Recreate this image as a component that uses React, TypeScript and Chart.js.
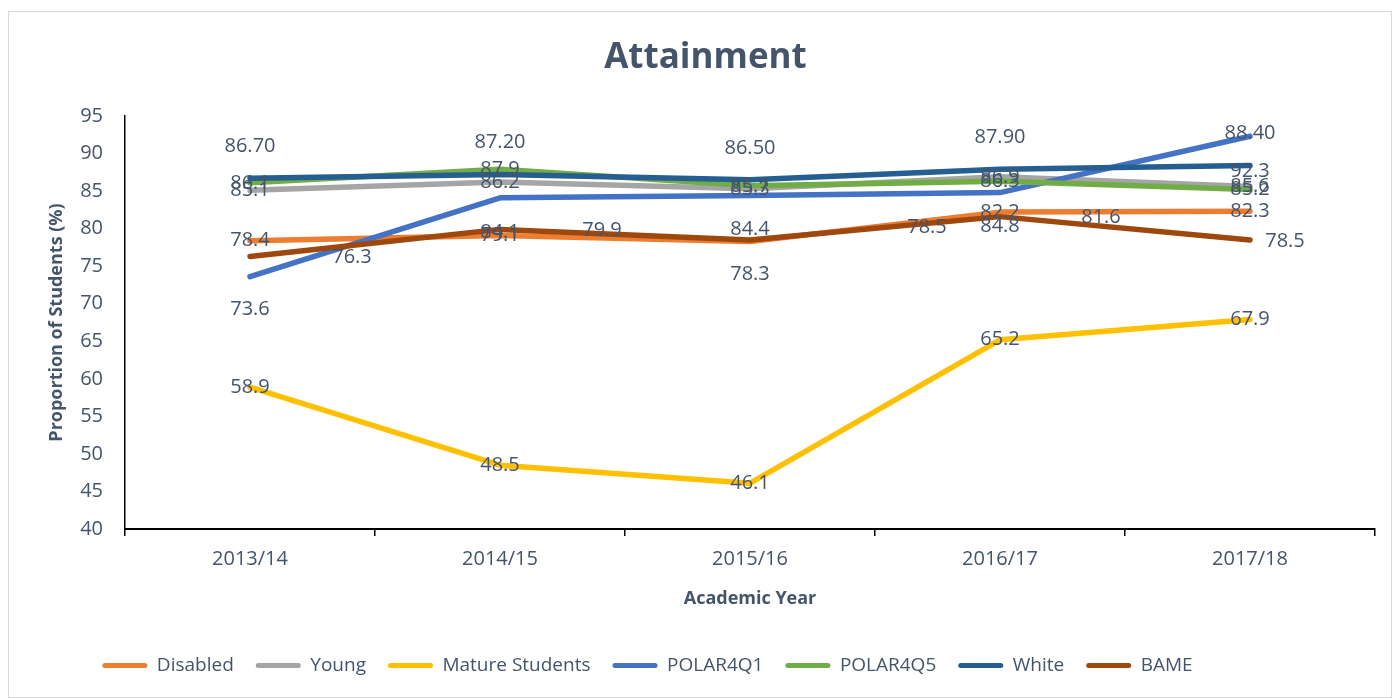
import React, { useEffect, useRef } from "react";
import { Chart, registerables } from "chart.js";

Chart.register(...registerables);

const categories = ["2013/14", "2014/15", "2015/16", "2016/17", "2017/18"];
const seriesNames = ["Disabled", "Young", "Mature Students", "POLAR4Q1", "POLAR4Q5", "White", "BAME"];
const disabled = [78.4, 79.1, 78.3, 82.2, 82.3];
const young = [85.1, 86.2, 85.3, 86.9, 85.6];
const mature = [58.9, 48.5, 46.1, 65.2, 67.9];
const polar4q1 = [73.6, 84.1, 84.4, 84.8, 92.3];
const polar4q5 = [86.1, 87.9, 85.7, 86.3, 85.2];
const white = [86.7, 87.2, 86.5, 87.9, 88.4];
const bame = [76.3, 79.9, 78.5, 81.6, 78.5];
const yMin = 40;
const yMax = 95;
const yStep = 5;

const seriesValues = [disabled, young, mature, polar4q1, polar4q5, white, bame];
const colors = ["#ED7D31", "#A5A5A5", "#FFC000", "#4472C4", "#70AD47", "#255E91", "#9E480E"];

// label placement styles (offsets in px relative to the point)
const labelStyles = [
  { decimals: 1, dx: [0, 0, 0, 0, 0], dy: [0, 0, 33, 0, 0] },
  { decimals: 1, dx: [0, 0, 0, 0, 0], dy: [0, 0, 0, 0, 0] },
  { decimals: 1, dx: [0, 0, 0, 0, 0], dy: [0, 0, 0, 0, 0] },
  { decimals: 1, dx: [0, 0, 0, 0, 0], dy: [33, 34, 34, 34, 35] },
  { decimals: 1, dx: [0, 0, 0, 0, 0], dy: [0, 0, 0, 0, 0] },
  { decimals: 2, dx: [0, 0, 0, 0, 0], dy: [-32, -32, -32, -32, -32] },
  { decimals: 1, dx: [102, 102, 177, 101, 35], dy: [1, 1, -13, 1, 1] },
];

const FONT = "'Open Sans', 'DejaVu Sans', sans-serif";
const TEXT = "#44546A";

const pointLabels = {
  id: "pointLabels",
  afterDatasetsDraw(chart: any) {
    const ctx = chart.ctx;
    ctx.save();
    ctx.font = `20px ${FONT}`;
    ctx.fillStyle = TEXT;
    ctx.textAlign = "center";
    ctx.textBaseline = "middle";
    chart.data.datasets.forEach((ds: any, i: number) => {
      const meta = chart.getDatasetMeta(i);
      const st = labelStyles[i];
      meta.data.forEach((pt: any, j: number) => {
        const v = ds.data[j] as number;
        ctx.fillText(v.toFixed(st.decimals), pt.x + st.dx[j], pt.y + st.dy[j]);
      });
    });
    ctx.restore();
  },
};

const frame = {
  id: "frame",
  beforeDraw(chart: any) {
    const ctx = chart.ctx;
    ctx.save();
    ctx.fillStyle = "#ffffff";
    ctx.fillRect(0, 0, chart.width, chart.height);
    ctx.strokeStyle = "#D9D9D9";
    ctx.lineWidth = 1;
    ctx.strokeRect(8.5, 11.5, 1383, 686);
    ctx.restore();
  },
};

const shiftBlocks = {
  id: "shiftBlocks",
  afterLayout(chart: any) {
    const lg = chart.legend;
    if (lg) {
      lg.left -= 40;
      lg.right -= 40;
    }
    const tb = chart.titleBlock;
    if (tb) {
      tb.left += 18;
      tb.right += 18;
    }
  },
};

export default function App() {
  const ref = useRef<HTMLCanvasElement | null>(null);

  useEffect(() => {
    if (!ref.current) return;
    const n = seriesNames.length;
    const chart = new Chart(ref.current, {
      type: "line",
      data: {
        labels: categories,
        datasets: seriesNames.map((name, i) => ({
          label: name,
          data: seriesValues[i],
          borderColor: colors[i],
          backgroundColor: colors[i],
          borderWidth: 5.5,
          borderCapStyle: "round",
          borderJoinStyle: "round",
          pointRadius: 0,
          pointHoverRadius: 0,
          tension: 0,
          fill: false,
          order: n - i,
        })),
      },
      options: {
        responsive: false,
        animation: false,
        events: [],
        layout: { padding: { left: 0, right: 25, top: 0, bottom: 14 } },
        plugins: {
          tooltip: { enabled: false },
          title: {
            display: true,
            text: "Attainment",
            color: TEXT,
            font: { family: FONT, size: 35, weight: "bold" },
            padding: { top: 37, bottom: 37 },
          },
          legend: {
            display: true,
            position: "bottom",
            labels: {
              color: TEXT,
              font: { family: FONT, size: 19 },
              boxWidth: 45,
              boxHeight: 5,
              padding: 22,
              useBorderRadius: true,
              borderRadius: 2.5,
              sort: (a: any, b: any) => a.datasetIndex - b.datasetIndex,
              generateLabels: (c: any) =>
                Chart.defaults.plugins.legend.labels
                  .generateLabels(c)
                  .map((l: any) => ({ ...l, lineWidth: 0, strokeStyle: "transparent" })),
            },
          },
        },
        scales: {
          x: {
            type: "category",
            offset: true,
            grid: {
              display: true,
              offset: true,
              drawOnChartArea: false,
              drawTicks: true,
              tickLength: 7,
              color: "#000000",
              lineWidth: 1.5,
            },
            border: { display: true, color: "#000000", width: 2 },
            ticks: { color: TEXT, font: { family: FONT, size: 20 }, padding: 11, maxRotation: 0 },
            title: {
              display: true,
              text: "Academic Year",
              color: TEXT,
              font: { family: FONT, size: 18, weight: "bold" },
              padding: { top: 0, bottom: 24 },
            },
            afterFit: (s: any) => {
              s.height = 105;
            },
          },
          y: {
            min: yMin,
            max: yMax,
            grid: { display: false, drawTicks: false },
            border: { display: true, color: "#000000", width: 1.5 },
            ticks: {
              stepSize: yStep,
              color: TEXT,
              font: { family: FONT, size: 20 },
              padding: 22,
            },
            title: {
              display: true,
              text: "Proportion of Students (%)",
              color: TEXT,
              font: { family: FONT, size: 18, weight: "bold" },
              padding: { top: 46, bottom: 0 },
            },
            afterFit: (s: any) => {
              s.width = 125;
            },
          },
        },
      },
      plugins: [frame, pointLabels, shiftBlocks],
    } as any);
    return () => chart.destroy();
  }, []);

  return (
    <div style={{ position: "fixed", left: 0, top: 0, width: 1400, height: 699, background: "#fff" }}>
      <canvas ref={ref} width={1400} height={699} style={{ display: "block" }} />
    </div>
  );
}
